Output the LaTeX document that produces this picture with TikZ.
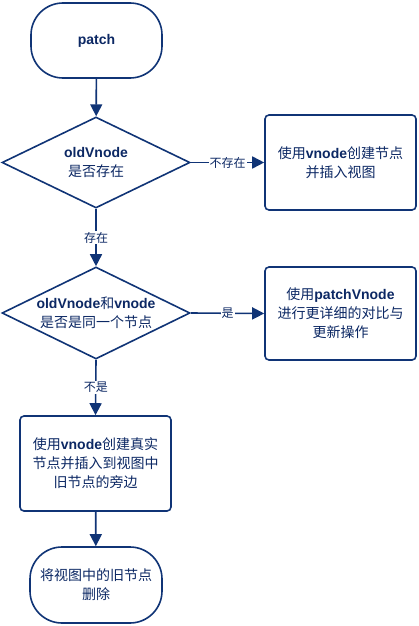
\documentclass[tikz,border=0pt]{standalone}
\usepackage{fontspec}
\setmainfont{Noto Sans CJK SC}
\newfontfamily\latfont{Liberation Sans}
\usetikzlibrary{shapes.geometric,arrows.meta}
\definecolor{stroke}{RGB}{16,52,118}
\definecolor{ink}{RGB}{12,40,100}
\newcommand{\lat}[1]{{\latfont\bfseries #1}}
\tikzset{
  base/.style={draw=stroke, line width=1.6pt, text=ink, font=\fontsize{14}{19}\selectfont, align=center, inner sep=0pt},
  term/.style={base, rectangle, rounded corners=32pt},
  proc/.style={base, rectangle, rounded corners=4pt, minimum width=151pt},
  dec/.style={base, diamond, aspect=2.07, inner xsep=-40pt, inner ysep=-15pt, minimum width=188pt, minimum height=91pt},
  conn/.style={draw=stroke, line width=1.6pt, -{Triangle[length=12pt,width=12pt]}},
  lbl/.style={fill=white, text=ink, font=\fontsize{12}{14}\selectfont, inner sep=1pt}
}
\begin{document}
\begin{tikzpicture}[x=1pt,y=-1pt]
\useasboundingbox[fill=white] (0,0) rectangle (418,626);
\node[term, minimum width=131pt, minimum height=75pt] (start) at (96.5,40.5) {\lat{patch}};
\node[dec] (d1) at (96,162.5) {\lat{oldVnode}\\是否存在};
\node[proc, minimum height=95pt] (b1) at (340.5,162.5) {使用\lat{vnode}创建节点\\并插入视图};
\node[dec, minimum height=92pt] (d2) at (96,313) {\lat{oldVnode}和\lat{vnode}\\是否是同一个节点};
\node[proc, minimum height=93pt] (b2) at (340.5,313.5) {使用\lat{patchVnode}\\进行更详细的对比与\\更新操作};
\node[proc, minimum height=95pt] (b3) at (95.5,463.5) {使用\lat{vnode}创建真实\\节点并插入到视图中\\旧节点的旁边};
\node[term, minimum width=132pt, minimum height=76pt] (t2) at (96,585) {将视图中的旧节点\\删除};
\draw[conn] (start) -- (d1);
\draw[conn] (d1.east) -- node[lbl] {不存在} (b1.west);
\draw[conn] (d1.south) -- node[lbl] {存在} (d2.north);
\draw[conn] (d2.east) -- node[lbl] {是} (b2.west);
\draw[conn] (d2.south) -- node[lbl] {不是} (b3.north);
\draw[conn] (b3) -- (t2);
\end{tikzpicture}
\end{document}
